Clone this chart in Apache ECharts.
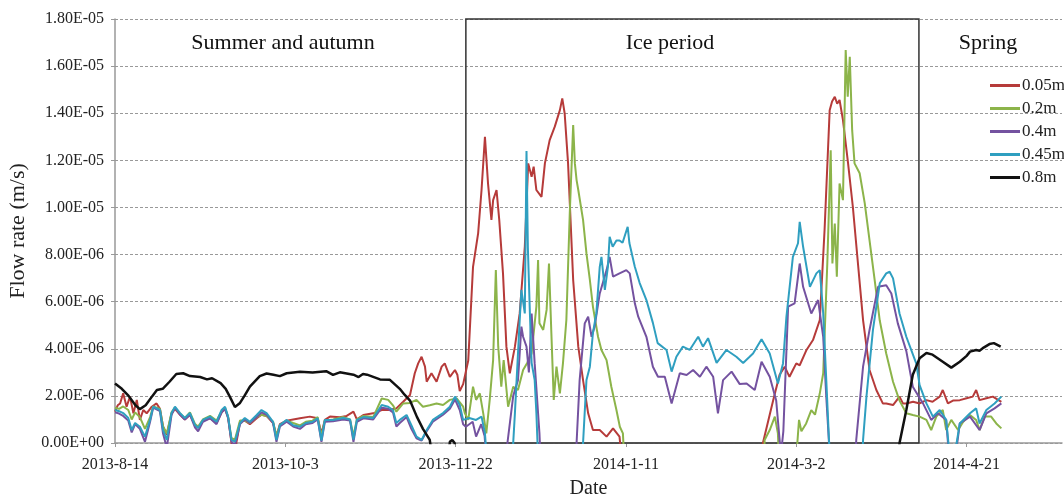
<!DOCTYPE html>
<html>
<head>
<meta charset="utf-8">
<script src="https://cdn.jsdelivr.net/npm/echarts@6/dist/echarts.min.js"></script>
<style>
html,body{margin:0;padding:0;background:#fff;}
#chart{width:1064px;height:498px;}
</style>
</head>
<body>
<div id="chart"></div>
<script>
// x = days since 2013-8-14, y = flow rate in units of 1E-06 m/s
const xTickLabels = ['2013-8-14','2013-10-3','2013-11-22','2014-1-11','2014-3-2','2014-4-21'];
const yTickLabels = ['0.00E+00','2.00E-06','4.00E-06','6.00E-06','8.00E-06','1.00E-05','1.20E-05','1.40E-05','1.60E-05','1.80E-05'];
const seriesNames = ['0.05m','0.2m','0.4m','0.45m','0.8m'];
const icePeriod = [103, 236];
const periodLabels = ['Summer and autumn','Ice period','Spring'];

const flow005 = [[0,1.33],[0.8,1.6],[1.5,1.68],[2.4,2.11],[3.4,1.54],[4.4,1.97],[5.4,1.26],[6.4,1.83],[7.3,0.98],[8.3,1.4],[9.3,1.26],[10.8,1.54],[12.2,1.68],[13.2,1.45],[14.1,0.7],[15.2,0.35],[16.6,1.25],[17.6,1.45],[19.1,1.2],[20.5,1.0],[22,1.2],[23.5,0.75],[24.4,0.65],[25.8,0.95],[27.9,1.05],[29.8,0.85],[31.3,1.3],[32.3,1.45],[33.2,1.1],[34.2,0.0],[35.2,-0.3],[36,0.3],[36.7,0.9],[38.1,0.95],[39.6,0.8],[41.6,1.05],[43,1.2],[44.5,1.15],[46.4,0.85],[47.4,0.3],[48.4,0.8],[50.4,0.95],[52.3,1.0],[54.3,1.05],[57.2,1.12],[59.5,1.05],[60.6,0.4],[61.6,0.98],[63.1,1.12],[66,1.09],[68,1.15],[70,1.33],[71,1.0],[72.9,1.19],[75.8,1.26],[78.3,1.4],[80.2,1.4],[82.6,1.47],[84.6,1.75],[86.6,2.04],[88,2.96],[89,3.38],[90,3.66],[91,3.24],[91.5,2.6],[92.9,2.96],[94.4,2.6],[95.9,3.24],[96.8,3.38],[98.3,2.81],[99.8,3.1],[100.5,2.9],[101.2,2.2],[102.2,2.5],[103.7,3.5],[105.1,7.48],[106.6,8.9],[107.6,10.74],[108.6,13.0],[109.5,11.02],[110.5,9.47],[111,10.31],[112,10.74],[112.8,9.47],[113.9,7.2],[114.9,4.09],[115.9,2.96],[117.4,4.09],[118.8,5.5],[120.3,8.33],[121.3,11.87],[122.3,11.3],[122.9,11.73],[123.7,10.74],[125.2,10.45],[126.2,11.87],[127.6,12.86],[129.1,13.43],[130.6,14.13],[131.3,14.63],[132,14],[133,11.87],[134.5,6.92],[136,4.09],[137.4,2.67],[138.9,1.26],[140.3,0.55],[142.3,0.55],[144.3,0.27],[146.2,0.62],[148.1,0.27],[149,-1],[190,-1],[190.2,0],[193.2,1.8],[195.1,2.9],[196.6,3.24],[198,2.81],[199,3.1],[200,3.38],[201,3.3],[203,3.95],[204.9,4.37],[206.9,5.22],[208.3,9.04],[209.8,14.13],[210.5,14.5],[211.3,14.7],[212,14.4],[212.7,14.56],[213.7,13.71],[215.2,11.87],[216.6,10.03],[218.1,7.62],[219.6,5.22],[221.5,3.1],[223.5,2.25],[225.4,1.68],[226.4,1.68],[228.4,1.61],[230.3,1.97],[231.3,1.68],[232.3,1.68],[234.3,1.75],[236.2,1.68],[238.2,1.82],[240,1.75],[242.1,1.97],[243,2.25],[244.5,1.68],[246,1.8],[248,1.82],[250,1.9],[251.8,1.97],[252.8,2.25],[253.8,1.82],[255.8,1.9],[257.7,1.97],[260.2,1.75]];

const flow02 = [[0,1.5],[1.2,1.45],[2.4,1.55],[3.9,1.4],[4.9,1.0],[5.9,1.3],[7.3,1.1],[8.8,0.6],[10.3,1.1],[11.2,1.55],[13.2,1.45],[14.1,0.7],[15.2,0.4],[16.6,1.3],[17.6,1.5],[19.1,1.25],[20.5,1.05],[22,1.3],[23.5,0.8],[24.4,0.7],[25.8,1.0],[27.9,1.15],[29.8,0.95],[31.3,1.35],[32.3,1.5],[33.2,1.1],[34.2,0.2],[35.2,0.15],[36.7,0.95],[38.1,0.95],[39.6,0.85],[41.6,1.1],[43,1.2],[44.5,1.15],[46.4,0.9],[47.4,0.3],[48.4,0.75],[50.4,0.95],[52.3,0.85],[54.3,0.75],[56,0.9],[58,0.95],[59.5,1.1],[60.6,0.3],[61.6,0.95],[64,1.0],[67,1.1],[69,1.0],[70,0.3],[71,1.0],[72.9,1.15],[75.8,1.1],[78.3,1.89],[80.2,1.83],[81.6,1.6],[82.6,1.33],[84.6,1.68],[86.6,1.7],[88.5,1.83],[90.4,1.54],[92.4,1.6],[94.4,1.68],[96.3,1.61],[98.3,1.83],[100.3,1.89],[102.2,1.54],[102.7,1.26],[103.7,0.98],[105.1,2.39],[106,1.83],[107.1,2.11],[108.1,1.26],[109,0.41],[110,1.83],[111,3.52],[111.8,7.34],[112.5,4.09],[113.4,2.39],[114.1,3.52],[115.4,1.54],[116.9,2.39],[118.3,2.25],[119.8,3.1],[121,3.4],[122.3,3.8],[123.7,5.79],[124.2,7.77],[124.6,5.08],[125.7,4.8],[126.7,5.65],[127.4,7.62],[128.1,4.66],[128.8,1.83],[129.6,3.24],[130.6,2.11],[131.5,3.38],[132.5,5.22],[133.5,9.75],[134.5,13.5],[135,11.87],[135.5,11.16],[136,10.74],[137.4,9.47],[138.4,8.05],[139.4,6.92],[140.3,5.79],[141.8,4.51],[142.8,3.95],[144.3,3.52],[145.7,2.39],[147.2,1.4],[148.2,0.69],[149.1,0.41],[149.6,-1],[190.5,-1],[190.7,0.13],[192.2,0.55],[193.7,1.12],[194.6,0.41],[195,-1],[199.8,-1],[200.8,0.98],[201.5,0.5],[202.9,0.83],[204.4,1.4],[205.5,1.2],[206.9,2.11],[207.9,2.96],[209.1,7.62],[210.1,12.43],[210.6,7.62],[211.3,9.32],[211.9,7.06],[212.7,11.02],[213.7,10.31],[214.5,16.68],[215.1,14.7],[215.7,16.4],[216.4,13.28],[217.1,11.87],[218.6,11.45],[220.1,10.17],[221.5,8.6],[223,6.92],[224.5,5.2],[226.4,3.8],[228.4,2.6],[230.3,1.8],[232.3,1.26],[234.2,1.19],[236.2,1.12],[238.2,0.98],[239.6,0.55],[241.1,1.12],[243,1.4],[244,0.55],[245.5,0.98],[247.5,0.55],[249,0.9],[251,1.19],[252.8,0.98],[253.8,0.55],[255.3,1.12],[257.2,1.12],[258.7,0.83],[260.2,0.62]];

const flow04 = [[0,1.3],[1.2,1.25],[2.4,1.15],[3.9,0.95],[4.9,0.45],[5.9,0.8],[7.3,0.6],[8.8,0.05],[10.3,0.9],[11.2,1.5],[13.2,1.35],[14.1,0.4],[15.2,-0.2],[16.6,1.2],[17.6,1.5],[19.1,1.2],[20.5,1.0],[22,1.2],[23.5,0.65],[24.4,0.5],[25.8,0.9],[27.9,1.05],[29.8,0.8],[31.3,1.3],[32.3,1.45],[33.2,1.05],[34.2,0.05],[35.2,-0.1],[36.7,0.8],[38.1,1.0],[39.6,0.85],[41.6,1.1],[43,1.3],[44.5,1.2],[46.4,0.85],[47.4,0.05],[48.4,0.7],[50.4,0.9],[52.3,0.7],[54.3,0.6],[56,0.8],[58,0.85],[59.5,1.0],[60.6,0.05],[61.6,0.9],[64,0.92],[67,1.0],[69,0.95],[70,0.05],[71,0.9],[72.9,1.05],[75.8,1.0],[78.3,1.5],[80.2,1.45],[81.6,1.3],[82.6,0.7],[83.6,0.85],[85.6,1.1],[87,0.6],[88.5,0.2],[90,0.1],[91.5,0.5],[93.3,0.9],[96.3,1.2],[98.3,1.45],[99.8,1.85],[101.2,1.4],[102.2,0.8],[103,0.69],[105,0.9],[106,0.27],[107.5,0.8],[108.5,0.3],[109.2,-1],[114.8,-1],[115.2,0],[116.9,2.0],[118.3,2.67],[119.3,4.94],[119.8,4.51],[120.8,4.09],[121.5,3.0],[122.3,5.5],[123.2,3.38],[124.2,1.26],[124.6,0.41],[125,-1],[135.3,-1],[135.5,0],[136.4,2.67],[137.9,5.08],[138.9,5.36],[139.9,4.51],[140.8,4.94],[142.3,6.35],[144.3,7.34],[145.2,7.9],[146.2,7.06],[148.1,7.2],[150.1,7.34],[151.1,7.2],[152.6,5.93],[153.6,5.36],[156,4.51],[157.9,3.24],[159.4,2.81],[161.4,2.81],[163.4,1.68],[165.8,2.96],[167.8,2.89],[169.7,3.1],[171.7,2.81],[173.6,3.24],[175.6,2.81],[177,1.26],[178.5,2.67],[181,3.03],[183.4,2.5],[185.4,2.53],[187.8,2.25],[189.8,3.45],[192.2,2.81],[194.1,1.8],[195.1,0.13],[195.5,-0.5],[196.2,0.5],[197.6,5.79],[199.5,5.93],[201,7.62],[202,6.63],[204.4,5.5],[206.4,6.07],[207.9,4.51],[208.8,1.97],[209.6,0],[210,-1],[217.3,-1],[217.6,0.13],[219.6,3.24],[221.5,4.8],[224,6.63],[226.4,6.7],[227.9,6.35],[229.8,5.08],[232.3,3.9],[234.2,2.39],[237.2,1.68],[239.6,0.98],[241.6,1.26],[244,0.98],[244.8,-0.5],[246.8,-0.5],[248,0.83],[251,1.12],[253.8,0.55],[255.8,1.26],[258.2,1.47],[260.2,1.68]];

const flow045 = [[0,1.4],[1.2,1.35],[2.4,1.27],[3.9,1.06],[4.9,0.55],[5.9,0.85],[7.3,0.69],[8.8,0.27],[10.3,0.98],[11.2,1.54],[13.2,1.4],[14.1,0.55],[15.2,0.13],[16.6,1.27],[17.6,1.54],[19.1,1.27],[20.5,1.06],[22,1.27],[23.5,0.76],[24.4,0.64],[25.8,0.98],[27.9,1.12],[29.8,0.9],[31.3,1.4],[32.3,1.54],[33.2,1.12],[34.2,0.13],[35.2,0.06],[36.7,0.85],[38.1,1.06],[39.6,0.9],[41.6,1.19],[43,1.4],[44.5,1.27],[46.4,0.9],[47.4,0.13],[48.4,0.76],[50.4,0.98],[52.3,0.75],[54.3,0.69],[56,0.85],[58,0.9],[59.5,1.05],[60.6,0.1],[61.6,0.98],[64,0.98],[67,1.06],[69,1.0],[70,0.15],[71,0.98],[72.9,1.1],[75.8,1.06],[78.3,1.61],[80.2,1.54],[81.6,1.4],[82.6,0.85],[83.6,0.98],[85.6,1.19],[87,0.76],[88.5,0.27],[90,0.13],[91.5,0.55],[93.3,0.98],[96.3,1.27],[98.3,1.54],[99.8,1.97],[101.2,1.61],[102.2,0.98],[104,1.06],[106,0.98],[107.6,1.12],[108.6,0.42],[109.3,-1],[116.5,-1],[117.4,1.27],[118.8,5.2],[119.3,6.5],[120.3,5.5],[120.8,12.4],[121.2,8.3],[121.8,5.5],[122.3,3.4],[123.2,2.67],[123.7,1.27],[124.3,-1],[137,-1],[137.4,0],[138.4,2.67],[139.4,3.24],[140.3,4.67],[141.3,5.5],[142.3,7.48],[142.8,7.9],[143.8,6.5],[144.7,7.48],[145.2,8.75],[146.1,8.33],[147.2,8.6],[148.1,8.6],[149,8.5],[150.5,9.18],[151,8.49],[152.6,7.48],[154,6.8],[156,6.07],[157.9,5.1],[159.3,4.24],[161.9,3.95],[163.4,3.03],[164.8,3.66],[166.7,4.09],[168.7,3.95],[171.2,4.51],[172.6,4.09],[174.1,4.45],[176.6,3.4],[179.5,3.95],[182.4,3.66],[184.4,3.4],[186.3,3.66],[187.3,3.8],[189.8,4.4],[192.2,3.8],[194.6,2.53],[196.1,3.38],[197.1,5.36],[199,7.9],[200.5,8.48],[201,9.39],[202,8.33],[204,6.63],[205.9,7.2],[206.9,7.34],[207.9,5.5],[208.8,2.67],[209.6,0.13],[210,-1],[219.3,-1],[219.6,0.13],[220.6,1.97],[222.5,4.8],[224.5,6.78],[226.4,7.2],[227.4,7.27],[228.4,6.99],[230.3,5.5],[232.3,4.51],[235.2,3.38],[236.2,2.46],[238.2,1.68],[240.1,1.12],[242.1,1.4],[244,0.98],[245,-0.5],[246.5,-0.5],[248,0.83],[251,1.26],[252.8,1.47],[253.8,0.83],[255.8,1.4],[258.2,1.68],[260.2,1.97]];

const flow08 = [[0,2.53],[2,2.3],[4,2.0],[6,1.6],[7.3,1.44],[9,1.6],[11,2.0],[12.3,2.25],[14,2.3],[16,2.6],[18,2.93],[20,2.96],[22,2.84],[25,2.8],[27,2.7],[28.5,2.75],[31,2.54],[32.5,2.3],[33.7,1.97],[35.2,1.53],[36.7,1.7],[38,2.0],[39.6,2.39],[42.5,2.84],[44.5,2.95],[46.5,2.9],[48.4,2.84],[50.4,2.96],[54.3,3.02],[58,2.99],[62,3.05],[64,2.89],[66,3.0],[70,2.9],[71.5,2.8],[72.8,2.93],[74,2.9],[77.8,2.7],[80.7,2.68],[83.6,2.3],[85,2.05],[86.6,1.8],[88.6,1.12],[90.4,0.6],[92.4,0.13],[93.5,-1],[97.5,-1],[98.3,0.05],[99,0.13],[99.7,0],[100.3,-1],[229.8,-1],[230.3,0],[232.3,1.4],[234.2,2.9],[236.2,3.6],[238.2,3.82],[240,3.75],[241.5,3.6],[243,3.45],[245.5,3.2],[248,3.45],[250,3.7],[251,3.88],[252.8,3.95],[253.8,3.92],[255,4.05],[256.7,4.2],[258,4.24],[260,4.09]];

const seriesData = [flow005, flow02, flow04, flow045, flow08];
const seriesColors = ['#B63B3A','#8CB44A','#7452A0','#2F9FC0','#111111'];

const FONT = "'Liberation Serif','Times New Roman',serif";
const chart = echarts.init(document.getElementById('chart'), null, {renderer:'canvas'});

const series = seriesNames.map((name, i) => ({
  name: name,
  type: 'line',
  data: seriesData[i],
  symbol: 'none',
  clip: true,
  z: i === 4 ? 3 : 2,
  lineStyle: {color: seriesColors[i], width: i === 4 ? 2.5 : 2},
  itemStyle: {color: seriesColors[i]}
}));
series[4].markArea = {
  silent: true,
  itemStyle: {color: 'rgba(0,0,0,0)', borderColor: '#333', borderWidth: 1.5},
  data: [[{xAxis: icePeriod[0], yAxis: 0}, {xAxis: icePeriod[1], yAxis: 18}]]
};

chart.setOption({
  animation: false,
  backgroundColor: '#fff',
  grid: {left: 115, right: 2, top: 19, bottom: 55, containLabel: false, outerBoundsMode: 'none'},
  legend: {
    orient: 'vertical', left: 985, top: 72,
    icon: 'rect',
    itemWidth: 30, itemHeight: 3, itemGap: 6,
    textStyle: {fontFamily: FONT, fontSize: 17, color: '#222', padding: [0,0,0,-3]},
    data: seriesNames
  },
  xAxis: {
    type: 'value', min: 0, max: 278, interval: 50,
    name: 'Date', nameLocation: 'middle', nameGap: 36,
    nameTextStyle: {fontFamily: FONT, fontSize: 20, color: '#222'},
    axisLine: {show: true, lineStyle: {color: '#999', width: 1.5}},
    axisTick: {show: true, length: 4, lineStyle: {color: '#999'}},
    axisLabel: {fontFamily: FONT, fontSize: 16, color: '#222', margin: 14, showMaxLabel: false,
      formatter: v => xTickLabels[Math.round(v / 50)] || ''},
    splitLine: {show: false}
  },
  yAxis: {
    type: 'value', min: 0, max: 18, interval: 2,
    name: 'Flow rate (m/s)', nameLocation: 'middle', nameGap: 86, nameRotate: 90,
    nameTextStyle: {fontFamily: FONT, fontSize: 22, color: '#222'},
    axisLine: {show: true, lineStyle: {color: '#999', width: 1.5}},
    axisTick: {show: true, length: 4, lineStyle: {color: '#999'}},
    axisLabel: {fontFamily: FONT, fontSize: 16, color: '#222', margin: 11,
      formatter: v => yTickLabels[Math.round(v / 2)]},
    splitLine: {show: true, lineStyle: {color: '#999', type: [3, 2], width: 1}}
  },
  graphic: [
    {type: 'text', x: 283, y: 43, style: {text: periodLabels[0], fontFamily: FONT, fontSize: 22, fill: '#111', textAlign: 'center', textVerticalAlign: 'middle'}},
    {type: 'text', x: 670, y: 43, style: {text: periodLabels[1], fontFamily: FONT, fontSize: 22, fill: '#111', textAlign: 'center', textVerticalAlign: 'middle'}},
    {type: 'text', x: 988, y: 43, style: {text: periodLabels[2], fontFamily: FONT, fontSize: 22, fill: '#111', textAlign: 'center', textVerticalAlign: 'middle'}}
  ],
  series: series
});
</script>
</body>
</html>
